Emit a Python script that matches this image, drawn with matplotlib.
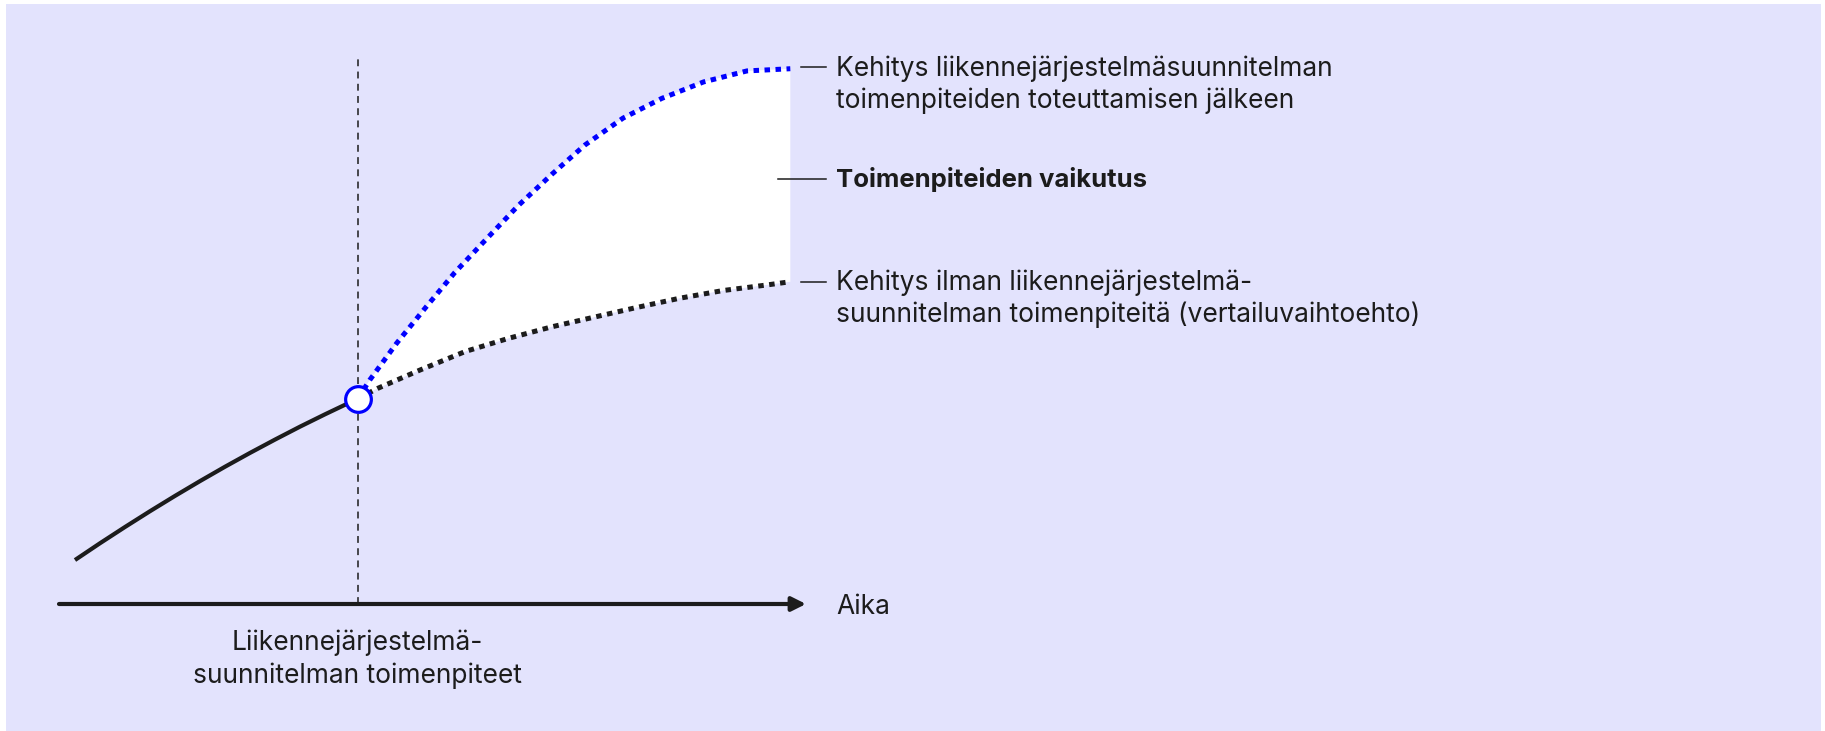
import matplotlib
matplotlib.use("Agg")
import matplotlib.pyplot as plt
from matplotlib.patches import Rectangle

plt.rcParams['font.family'] = ['Inter', 'DejaVu Sans']

# ---- data (time 0..100, level 0..100) ----
past_t = [2.14, 5.49, 8.84, 12.18, 15.53, 18.88, 22.22, 25.57, 28.92, 32.26, 35.61, 40.0]
past_v = [8.01, 11.07, 14.03, 16.90, 19.69, 22.39, 25.00, 27.52, 29.95, 32.30, 34.55, 37.4]

event_t = 40.0
event_v = 37.4

plan_t = [40.0, 41.6, 45.2, 49.2, 53.0, 57.3, 61.5, 66.0, 70.4, 75.5, 80.7, 86.3, 92.1, 97.9]
plan_v = [37.4, 40.8, 47.5, 54.2, 60.4, 66.6, 72.6, 78.3, 83.6, 88.5, 92.1, 95.1, 97.1, 97.5]

base_t = [40.0, 42.7, 48.3, 54.4, 60.2, 66.0, 71.8, 77.3, 83.1, 88.9, 94.7, 97.9]
base_v = [37.4, 39.3, 42.6, 46.0, 48.4, 50.5, 52.3, 54.0, 55.7, 57.1, 58.1, 58.7]

label_plan = "Kehitys liikennejärjestelmäsuunnitelman\ntoimenpiteiden toteuttamisen jälkeen"
label_effect = "Toimenpiteiden vaikutus"
label_base = "Kehitys ilman liikennejärjestelmä-\nsuunnitelman toimenpiteitä (vertailuvaihtoehto)"
label_x = "Aika"
label_event = "Liikennejärjestelmä-\nsuunnitelman toimenpiteet"

BG = '#E3E3FD'
INK = '#1c1c1c'
BLUE = '#0000FF'

W, H = 1825, 731
fig = plt.figure(figsize=(W / 100, H / 100), dpi=100, facecolor='white')
bg = Rectangle((6 / W, 0), (1821 - 6) / W, 727 / H,
               transform=fig.transFigure, facecolor=BG, edgecolor='none')
bg.set_zorder(-10)
fig.add_artist(bg)

ax = fig.add_axes([59 / W, 1 - 604 / H, (806 - 59) / W, (604 - 55) / H])
ax.set_zorder(1)
ax.set_xlim(0, 100)
ax.set_ylim(0, 100)
ax.axis('off')
ax.patch.set_alpha(0)

# white impact area
poly_t = plan_t + base_t[::-1]
poly_v = plan_v + base_v[::-1]
ax.fill(poly_t, poly_v, color='white', lw=0, zorder=1)

# vertical dashed line at the measures
ax.plot([event_t, event_t], [0, 100], color=INK, lw=1.1,
        dashes=(4.5, 3.5), zorder=2, clip_on=False)

# x-axis arrow
ax.annotate('', xy=(100, 0), xytext=(0, 0),
            arrowprops=dict(arrowstyle='-|>,head_length=0.6,head_width=0.3',
                            lw=3.0, color=INK, shrinkA=0, shrinkB=0,
                            mutation_scale=14),
            annotation_clip=False, zorder=3)

# curves
ax.plot(past_t, past_v, color=INK, lw=3.0, solid_capstyle='butt',
        solid_joinstyle='round', zorder=4)
ax.plot(plan_t, plan_v, color=BLUE, lw=3.6, dashes=(1.1, 1.1), zorder=4)
ax.plot(base_t, base_v, color=INK, lw=3.6, dashes=(1.1, 1.1), zorder=4)

ax.plot([event_t], [event_v], marker='o', ms=18.5, mfc='white', mec=BLUE,
        mew=2.3, zorder=6, clip_on=False)

# leader lines
ax.plot([99.3, 102.7], [97.8, 97.8], color=INK, lw=1.1, clip_on=False)
ax.plot([96.2, 102.7], [77.4, 77.4], color=INK, lw=1.1, clip_on=False)
ax.plot([99.3, 102.7], [58.6, 58.6], color=INK, lw=1.1, clip_on=False)

fs = 19
ls = 1.3
ax.text(104.0, 94.6, label_plan, fontsize=fs, color=INK, ha='left',
        va='center', linespacing=ls, clip_on=False)
ax.text(104.0, 77.4, label_effect, fontsize=fs - 0.5, color=INK, ha='left',
        va='center', fontweight='bold', clip_on=False)
ax.text(104.0, 55.6, label_base, fontsize=fs, color=INK, ha='left',
        va='center', linespacing=ls, clip_on=False)
ax.text(104.0, -0.6, label_x, fontsize=fs, color=INK, ha='left', va='center',
        clip_on=False)
ax.text(event_t, -10.1, label_event, fontsize=fs, color=INK, ha='center',
        va='center', multialignment='center', linespacing=ls, clip_on=False)

fig.savefig('out.png', dpi=100, facecolor='white')
